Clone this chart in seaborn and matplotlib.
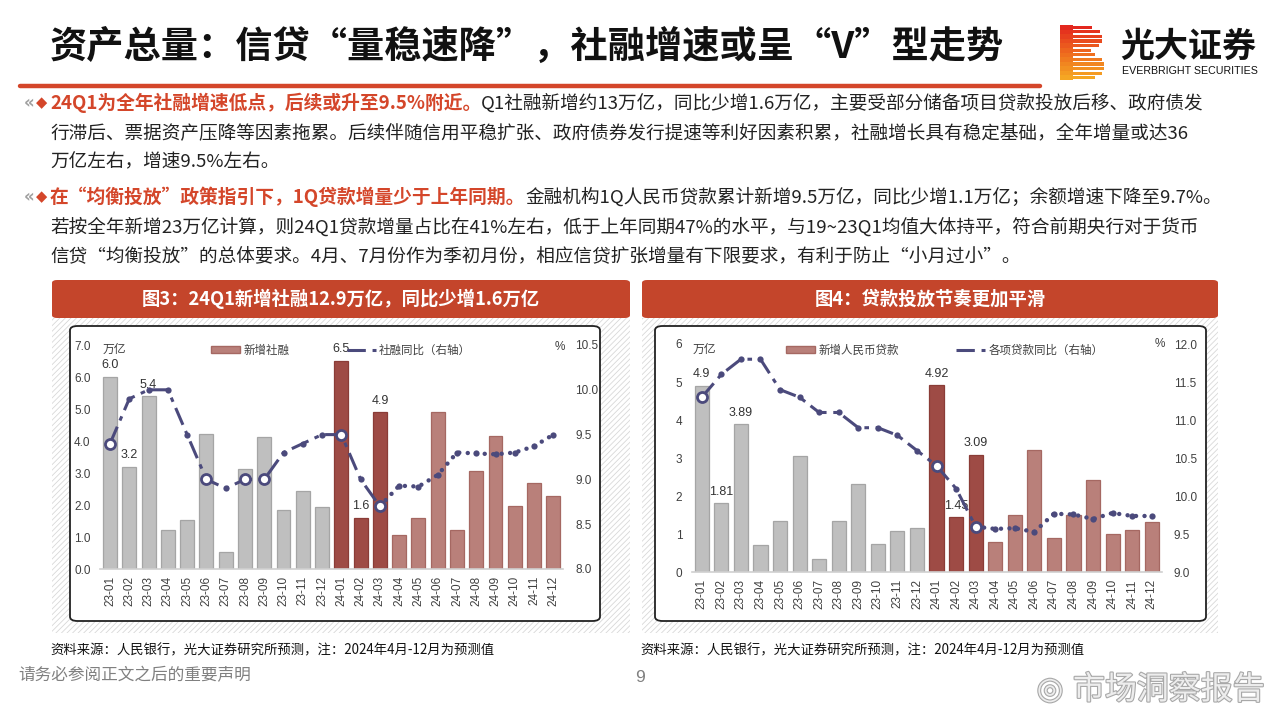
import numpy as np
import pandas as pd
import matplotlib
matplotlib.use("Agg")
import matplotlib.pyplot as plt
import seaborn as sns
from matplotlib.patches import Rectangle, FancyBboxPatch, Patch
from matplotlib.lines import Line2D
import matplotlib.patheffects as pe

# ---------------- data ----------------
months = ["23-01", "23-02", "23-03", "23-04", "23-05", "23-06", "23-07", "23-08",
          "23-09", "23-10", "23-11", "23-12", "24-01", "24-02", "24-03", "24-04",
          "24-05", "24-06", "24-07", "24-08", "24-09", "24-10", "24-11", "24-12"]
phase = ["2023"] * 12 + ["24Q1"] * 3 + ["预测"] * 9

tsf_new = [6.0, 3.2, 5.4, 1.22, 1.53, 4.22, 0.52, 3.12, 4.12, 1.83, 2.45, 1.94,
           6.5, 1.6, 4.9, 1.07, 1.58, 4.9, 1.22, 3.07, 4.17, 1.96, 2.70, 2.28]
tsf_yoy = [9.4, 9.9, 10.0, 10.0, 9.5, 9.0, 8.9, 9.0, 9.0, 9.3, 9.4, 9.5,
           9.5, 9.0, 8.7, 8.93, 8.92, 9.05, 9.3, 9.29, 9.28, 9.3, 9.37, 9.5]

loan_new = [4.9, 1.81, 3.89, 0.72, 1.36, 3.05, 0.34, 1.36, 2.32, 0.74, 1.09, 1.17,
            4.92, 1.45, 3.09, 0.80, 1.51, 3.21, 0.91, 1.51, 2.42, 1.0, 1.10, 1.31]
loan_yoy = [11.3, 11.6, 11.8, 11.8, 11.4, 11.3, 11.1, 11.1, 10.9, 10.9, 10.8, 10.6,
            10.4, 10.1, 9.6, 9.57, 9.58, 9.53, 9.77, 9.76, 9.70, 9.78, 9.74, 9.74]

title = "资产总量：信贷“量稳速降”，社融增速或呈“V”型走势"
fig3_title = "图3：24Q1新增社融12.9万亿，同比少增1.6万亿"
fig4_title = "图4：贷款投放节奏更加平滑"
source = "资料来源：人民银行，光大证券研究所预测，注：2024年4月-12月为预测值"
footer = "请务必参阅正文之后的重要声明"

body = [
    [("24Q1为全年社融增速低点，后续或升至9.5%附近。", "hl"),
     ("Q1社融新增约13万亿，同比少增1.6万亿，主要受部分储备项目贷款投放后移、政府债发", "n")],
    [("行滞后、票据资产压降等因素拖累。后续伴随信用平稳扩张、政府债券发行提速等利好因素积累，社融增长具有稳定基础，全年增量或达36", "n")],
    [("万亿左右，增速9.5%左右。", "n")],
    [("在“均衡投放”政策指引下，1Q贷款增量少于上年同期。", "hl"),
     ("金融机构1Q人民币贷款累计新增9.5万亿，同比少增1.1万亿；余额增速下降至9.7%。", "n")],
    [("若按全年新增23万亿计算，则24Q1贷款增量占比在41%左右，低于上年同期47%的水平，与19~23Q1均值大体持平，符合前期央行对于货币", "n")],
    [("信贷“均衡投放”的总体要求。4月、7月份作为季初月份，相应信贷扩张增量有下限要求，有利于防止“小月过小”。", "n")],
]

# ---------------- style ----------------
sns.set_style("white")
plt.rcParams['font.family'] = ['Noto Sans CJK SC', 'DejaVu Sans']
plt.rcParams['axes.unicode_minus'] = False
plt.rcParams['hatch.linewidth'] = 0.6

RED = "#C4452B"
HL = "#D4462A"
LINE = "#4B4A7C"
pal = {"2023": "#BFBFBF", "24Q1": "#9E4B45", "预测": "#B9807A"}
edge = {"2023": "#A5A5A5", "24Q1": "#8A3C37", "预测": "#A56862"}

W, H = 1280, 720
fig = plt.figure(figsize=(12.8, 7.2), dpi=100)
fig.patch.set_facecolor("white")


def fx(x):
    return x / W


def fy(y):
    return 1 - y / H


def rect(x0, y0, x1, y1):
    return [fx(x0), fy(y1), (x1 - x0) / W, (y1 - y0) / H]


# ---------------- header ----------------
fig.text(fx(50), fy(47), title, fontsize=26.8, fontweight="bold", color="#111111",
         ha="left", va="center")
fig.add_artist(Line2D([fx(20), fx(1040)], [fy(86), fy(86)], color=HL, lw=3.2,
                      transform=fig.transFigure))

# logo
lg = fig.add_axes(rect(1060, 25, 1104, 80))
lg.set_xlim(0, 1)
lg.set_ylim(0, 12)
lg.axis("off")
widths = [0.72, 0.9, 0.96, 0.96, 0.88, 0.7, 0.8, 0.95, 1.0, 1.0, 0.95, 0.8]
cmap = matplotlib.colors.LinearSegmentedColormap.from_list("lg", ["#E3281E", "#EE6A1E", "#F5A623"])
for i, wv in enumerate(widths):
    lg.add_patch(Rectangle((0, 11 - i + 0.15), wv, 0.7, color=cmap(i / 11), lw=0))
for i in range(12):
    lg.add_patch(Rectangle((0, 11 - i), 0.3, 1.0, color=cmap(i / 11), lw=0))
fig.text(fx(1120), fy(46), "光大证券", fontsize=24.5, fontweight="bold", color="#111111",
         ha="left", va="center")
fig.text(fx(1122), fy(71), "EVERBRIGHT SECURITIES", fontsize=7.7, color="#111111",
         ha="left", va="center", family=["Liberation Sans", "DejaVu Sans"])

# ---------------- body text ----------------
renderer = fig.canvas.get_renderer()
line_y = [103, 133, 162, 197, 227, 256]
for k, (parts, yy) in enumerate(zip(body, line_y)):
    if k in (0, 3):
        fig.text(fx(24), fy(yy), "«", fontsize=12, color="#A0A0A0", ha="left", va="center",
                 family=["DejaVu Sans"], fontweight="bold")
        fig.text(fx(36), fy(yy), "◆", fontsize=10.5, color=HL, ha="left", va="center",
                 family=["DejaVu Sans"])
    x = 50
    for s, kind in parts:
        if kind == "hl":
            t = fig.text(fx(x), fy(yy), s, fontsize=13.5, fontweight="bold", color=HL,
                         ha="left", va="center")
        else:
            t = fig.text(fx(x), fy(yy), s, fontsize=13.4, color="#222222",
                         ha="left", va="center")
        x += t.get_window_extent(renderer=renderer).width


# ---------------- charts ----------------
def panel(x0, x1, head, box):
    fig.add_artist(FancyBboxPatch((fx(x0), fy(318)), (x1 - x0) / W, (318 - 280) / H,
                                  boxstyle="round,pad=0,rounding_size=0.004",
                                  transform=fig.transFigure, fc=RED, ec="none", zorder=-3))
    fig.text(fx((x0 + x1) / 2), fy(299), head, fontsize=13.2, fontweight="bold",
             color="white", ha="center", va="center")
    fig.add_artist(Rectangle((fx(x0), fy(633)), (x1 - x0) / W, (633 - 318) / H,
                             transform=fig.transFigure, fc="white", ec="#D8D8D8",
                             hatch="//////", lw=0, zorder=-3))
    bx0, by0, bx1, by1 = box
    fig.add_artist(FancyBboxPatch((fx(bx0), fy(by1)), (bx1 - bx0) / W, (by1 - by0) / H,
                                  boxstyle="round,pad=0,rounding_size=0.006",
                                  transform=fig.transFigure, fc="white", ec="#222222",
                                  lw=1.3, zorder=-2))
    fig.text(fx(x0 - 2), fy(650), source, fontsize=9.6, color="#111111",
             ha="left", va="center")


def chart(r, new, yoy, ylim_l, ystep_l, fmt_l, ylim_r, fmt_lbl, labeled, circled,
          leg_labels, leg_x, unit_xy, pct_xy):
    ax = fig.add_axes(rect(*r))
    ax.set_facecolor("none")
    df = pd.DataFrame({"month": months, "value": new, "phase": phase})
    sns.barplot(data=df, x="month", y="value", hue="phase", order=months,
                hue_order=["2023", "24Q1", "预测"], palette=pal, dodge=False,
                width=0.72, saturation=1, legend=False, ax=ax, linewidth=0.9)
    for p in ax.patches:
        fc = matplotlib.colors.to_hex(p.get_facecolor())
        for key, col in pal.items():
            if fc.lower() == col.lower():
                p.set_edgecolor(edge[key])
    ax.set_ylim(*ylim_l)
    ax.set_xlim(-0.5, len(months) - 0.5)
    yt = np.arange(ylim_l[0], ylim_l[1] + 1e-9, ystep_l)
    ax.set_yticks(yt)
    ax.set_yticklabels([fmt_l.format(v) for v in yt], fontsize=8.5, color="#404040",
                       family=["Liberation Sans", "DejaVu Sans"])
    ax.set_xticks(range(len(months)))
    ax.set_xticklabels(months, rotation=90, fontsize=8.5, color="#404040",
                       family=["Liberation Sans", "DejaVu Sans"])
    ax.set_xlabel("")
    ax.set_ylabel("")
    for s in ["top", "right", "left"]:
        ax.spines[s].set_visible(False)
    ax.spines["bottom"].set_color("#D0D0D0")
    ax.spines["bottom"].set_linewidth(1.2)
    ax.tick_params(axis="y", length=0, pad=7)
    ax.tick_params(axis="x", length=0, pad=5)
    for i in labeled:
        ax.annotate(fmt_lbl.format(new[i]) if "g" not in fmt_lbl else f"{new[i]:g}",
                    (i, new[i]), xytext=(0, 4), textcoords="offset points",
                    ha="center", va="bottom", fontsize=9, color="#333333",
                    family=["Liberation Sans", "DejaVu Sans"])

    ax2 = ax.twinx()
    ax2.set_facecolor("none")
    x = np.arange(len(months))
    y = np.array(yoy)
    sns.lineplot(x=x[:15], y=y[:15], ax=ax2, color=LINE, lw=2.2,
                 linestyle=(0, (6, 2.2, 1.5, 2.2)), marker="o", markersize=4.5,
                 markeredgewidth=0)
    sns.lineplot(x=x[14:], y=y[14:], ax=ax2, color=LINE, lw=3.2,
                 linestyle=(0, (0.01, 1.9)), dash_capstyle="round", marker="o",
                 markersize=4.5, markeredgewidth=0)
    ax2.scatter(x[circled], y[circled], s=52, facecolor="white", edgecolor=LINE,
                linewidth=2, zorder=5)
    ax2.set_ylim(*ylim_r)
    yr = np.arange(ylim_r[0], ylim_r[1] + 1e-9, 0.5)
    ax2.set_yticks(yr)
    ax2.set_yticklabels([f"{v:.1f}" for v in yr], fontsize=8.5, color="#404040",
                        family=["Liberation Sans", "DejaVu Sans"])
    ax2.tick_params(axis="y", length=0, pad=9)
    ax2.set_xlabel("")
    ax2.set_ylabel("")
    for s in ax2.spines.values():
        s.set_visible(False)

    handles = [Patch(facecolor=pal["预测"], edgecolor=edge["预测"]),
               Line2D([], [], color=LINE, lw=2.2, linestyle=(0, (6, 2.2, 1.5, 2.2)))]
    leg = ax2.legend(handles, leg_labels, ncol=2, frameon=False, loc="center left",
                     bbox_to_anchor=(fx(leg_x), fy(350)), bbox_transform=fig.transFigure,
                     fontsize=8.3, handlelength=2.5, handleheight=0.55,
                     columnspacing=5.0, handletextpad=0.3, borderaxespad=0,
                     borderpad=0)
    for t in leg.get_texts():
        t.set_color("#404040")
    fig.text(fx(unit_xy[0]), fy(unit_xy[1]), "万亿", fontsize=8.5, color="#404040",
             ha="left", va="center")
    fig.text(fx(pct_xy[0]), fy(pct_xy[1]), "%", fontsize=8.5, color="#404040",
             ha="left", va="center", family=["Liberation Sans", "DejaVu Sans"])
    return ax, ax2


panel(52, 630, fig3_title, (70, 326, 600, 621))
panel(642, 1218, fig4_title, (655, 326, 1206, 621))

chart((100.4, 345, 563, 569), tsf_new, tsf_yoy, (0, 7), 1, "{:.1f}", (8, 10.5), "{:.1f}",
      [0, 1, 2, 12, 13, 14], [0, 5, 7, 8, 12, 14],
      ["新增社融", "社融同比（右轴）"], 211, (103, 349), (555, 347))
chart((692, 344, 1161.5, 572.3), loan_new, loan_yoy, (0, 6), 1, "{:.0f}", (9, 12), "g",
      [0, 1, 2, 12, 13, 14], [0, 12, 14],
      ["新增人民币贷款", "各项贷款同比（右轴）"], 786, (693, 349), (1155, 344))

# ---------------- footer ----------------
fig.text(fx(18), fy(676), footer, fontsize=12, color="#808080", ha="left", va="center")
fig.text(fx(640), fy(678), "9", fontsize=12.5, color="#808080", ha="center", va="center",
         family=["Liberation Sans", "DejaVu Sans"])
fig.text(fx(1265), fy(690), "市场洞察报告", fontsize=23, color="#EDEDED", ha="right",
         va="center", path_effects=[pe.withStroke(linewidth=1.6, foreground="#A8A8A8")])
fig.text(fx(1050), fy(690), "◎", fontsize=22, color="#EDEDED", ha="center", va="center",
         family=["DejaVu Sans"],
         path_effects=[pe.withStroke(linewidth=1.6, foreground="#A8A8A8")])

fig.savefig("out.png", dpi=100, facecolor="white")
